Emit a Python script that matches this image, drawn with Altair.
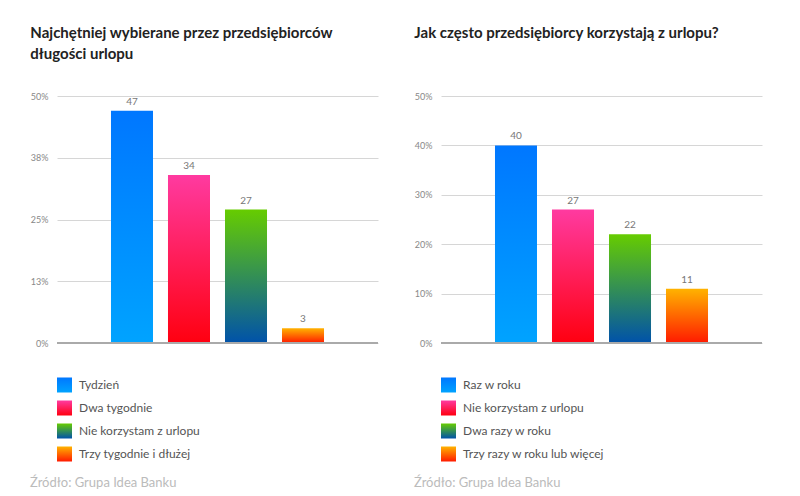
import altair as alt
import pandas as pd

L_TITLE = ["Najchętniej wybierane przez przedsiębiorców", "długości urlopu"]
L_CATS = ["Tydzień", "Dwa tygodnie", "Nie korzystam z urlopu", "Trzy tygodnie i dłużej"]
L_VALS = [47, 34, 27, 3]
L_TICKS = [0, 12.5, 25, 37.5, 50]

R_TITLE = "Jak często przedsiębiorcy korzystają z urlopu?"
R_CATS = ["Raz w roku", "Nie korzystam z urlopu", "Dwa razy w roku", "Trzy razy w roku lub więcej"]
R_VALS = [40, 27, 22, 11]
R_TICKS = [0, 10, 20, 30, 40, 50]

SOURCE = "Źródło: Grupa Idea Banku"

GRAD_TOP = ["#0077ff", "#ff3aa0", "#66cc00", "#ffb300"]
GRAD_BOTTOM = ["#00a3ff", "#ff0010", "#0052aa", "#ff1a00"]

FONT = "Lato"


def grad(top, bottom):
    return {
        "gradient": "linear", "x1": 0, "y1": 0, "x2": 0, "y2": 1,
        "stops": [{"offset": 0, "color": top}, {"offset": 1, "color": bottom}],
    }


def panel(title, cats, vals, ticks, offset):
    df = pd.DataFrame({"cat": cats, "val": vals})
    x = alt.X("cat:N", scale=alt.Scale(domain=cats, paddingInner=0.263, paddingOuter=0.947), axis=None)
    y = alt.Y(
        "val:Q",
        scale=alt.Scale(domain=[0, 50], nice=False),
        axis=alt.Axis(
            values=ticks, labelExpr="round(datum.value) + '%'", grid=True,
            gridColor="#d6d6d6", gridWidth=1, domain=False, ticks=False,
            labelPadding=9, labelFontSize=9, labelColor="#888", labelFont=FONT, title=None,
        ),
    )
    base = alt.Chart(df)
    layers = []
    for i, c in enumerate(cats):
        layers.append(
            base.transform_filter(alt.datum.cat == c)
            .mark_bar(color=grad(GRAD_TOP[i], GRAD_BOTTOM[i]))
            .encode(x=x, y=y)
        )
    zero = base.mark_rule(color="#aaaaaa", strokeWidth=2).encode(y=alt.datum(0))
    labels = base.mark_text(baseline="bottom", dy=-4, fontSize=10, color="#777", font=FONT).encode(
        x=x, y=y, text="val:Q"
    )
    bars = alt.layer(*layers, zero, labels).properties(
        width=321, height=247,
        title=alt.TitleParams(
            title, anchor="start", fontSize=15, font=FONT, fontWeight="bold",
            color="#222", lineHeight=21, offset=offset,
        ),
    )

    ldf = pd.DataFrame({"cat": cats})
    lbase = alt.Chart(ldf)
    ly = alt.Y("cat:N", scale=alt.Scale(domain=cats, type="point", padding=0), axis=None)
    squares = []
    for i, c in enumerate(cats):
        squares.append(
            lbase.transform_filter(alt.datum.cat == c)
            .mark_square(size=225, opacity=1, color=grad(GRAD_TOP[i], GRAD_BOTTOM[i]))
            .encode(x=alt.value(7.5), y=ly)
        )
    ltext = lbase.mark_text(align="left", baseline="middle", fontSize=12, color="#555", font=FONT).encode(
        x=alt.value(22), y=ly, text="cat:N"
    )
    src = alt.Chart(pd.DataFrame({"s": [SOURCE]})).mark_text(
        align="left", baseline="middle", fontSize=13, color="#bbb", font=FONT
    ).encode(x=alt.value(-27), y=alt.value(98), text="s:N")
    legend = alt.layer(*squares, ltext, src).properties(width=300, height=69)
    return alt.vconcat(bars, legend, spacing=29)


left = panel(L_TITLE, L_CATS, L_VALS, L_TICKS, 30)
right = panel(R_TITLE, R_CATS, R_VALS, R_TICKS, 51)

chart = (
    alt.hconcat(left, right, spacing=35)
    .properties(padding={"left": 22, "top": 18, "right": 0, "bottom": 0})
    .configure_view(stroke=None)
)

chart.save("out.html", embed_options={"renderer": "svg", "actions": False})
